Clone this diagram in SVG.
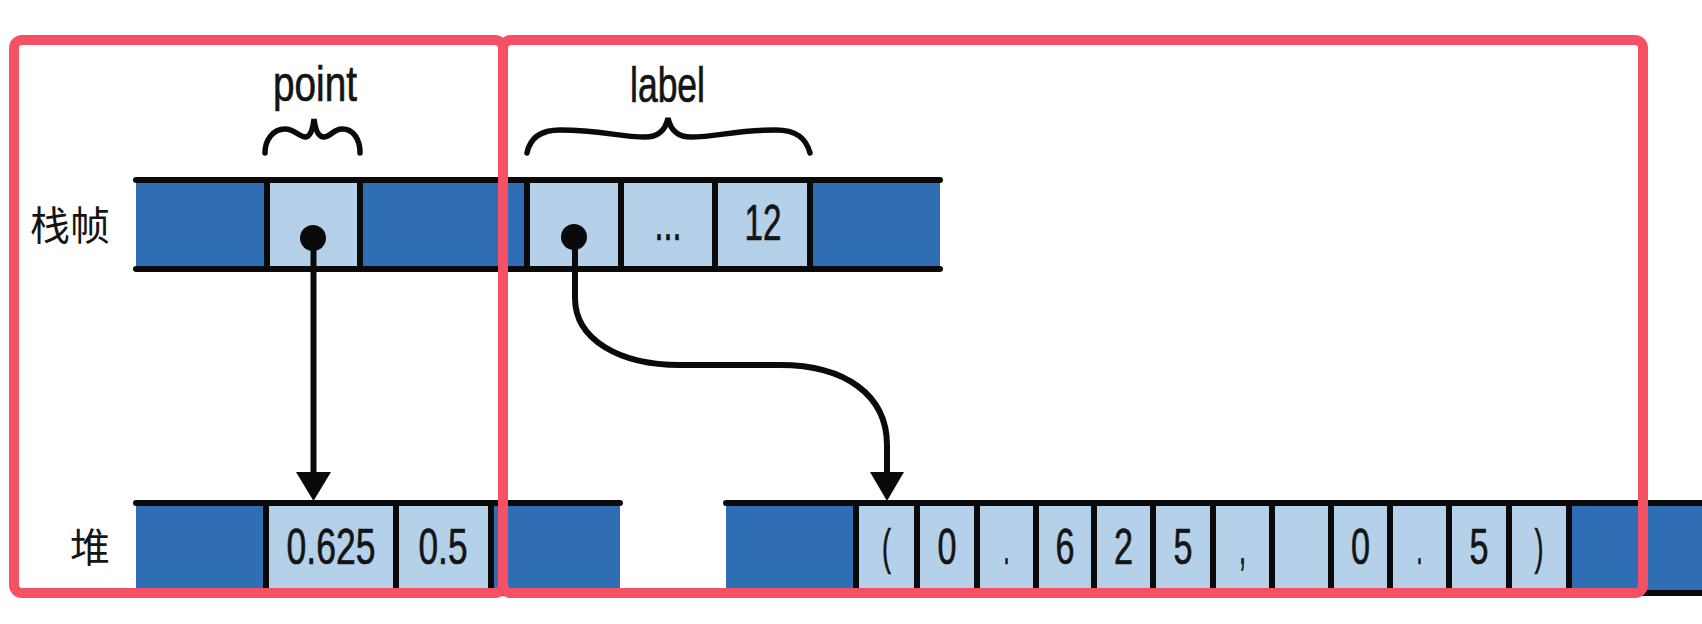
<svg xmlns="http://www.w3.org/2000/svg" width="1702" height="624" viewBox="0 0 1702 624">
<style>
.dk{fill:#2f6db5}
.lt{fill:#b5d1ea}
.edge{stroke:#0a0a0a;stroke-width:6;stroke-linecap:round;fill:none}
.sep{stroke:#0a0a0a;stroke-width:6;fill:none}
.t{font-family:"Liberation Sans",Arial,sans-serif;font-size:50px;fill:#141414;stroke:#141414;stroke-width:0.7}
.c{text-anchor:middle}
.cjk{font-family:"Noto Sans CJK SC","Noto Sans",sans-serif;font-size:40px;fill:#141414;text-anchor:end}
.brace{stroke:#0a0a0a;stroke-width:5.5;fill:none;stroke-linecap:round}
.con{stroke:#0a0a0a;stroke-width:6;fill:none}
.frame{fill:none;stroke:#f55064;stroke-width:10}
</style>
<rect width="1702" height="624" fill="#ffffff"/>

<g id="labels">
<text class="cjk" x="110" y="240">栈帧</text>
<text class="cjk" x="110" y="562">堆</text>
</g>

<g id="point-label">
<text class="t" x="273" y="101" textLength="84" lengthAdjust="spacingAndGlyphs">point</text>
<path class="brace" d="M265,153 C265,140 273,129 285,129 C295,129 300,138 306,137 C311,136 313,128 314,119 C315,128 318,136 323,137 C330,138 333,129 342,129 C354,129 360,140 360,153"/>
</g>

<g id="label-label">
<text class="t" x="630" y="102" textLength="75" lengthAdjust="spacingAndGlyphs">label</text>
<path class="brace" d="M527,153 C530,138 540,130 560,130 C600,130 620,137 645,137 C660,137 666,128 668,118 C670,128 676,137 691,137 C716,137 736,130 776,130 C796,130 806,138 810,153"/>
</g>

<g id="stack-frame">
<rect class="dk" x="136" y="180" width="131" height="89"/>
<rect class="lt" x="267" y="180" width="93" height="89"/>
<rect class="dk" x="360" y="180" width="167" height="89"/>
<rect class="lt" x="527" y="180" width="94" height="89"/>
<rect class="lt" x="621" y="180" width="94" height="89"/>
<rect class="lt" x="715" y="180" width="95" height="89"/>
<rect class="dk" x="810" y="180" width="130" height="89"/>
<path class="sep" d="M267,180V269M360,180V269M527,180V269M621,180V269M715,180V269M810,180V269"/>
<path class="edge" d="M136,180H940M136,269H940"/>
<text class="t c" x="668" y="240" textLength="27" lengthAdjust="spacingAndGlyphs">...</text>
<text class="t c" x="763" y="240" textLength="37" lengthAdjust="spacingAndGlyphs">12</text>
<circle cx="313" cy="238" r="13" fill="#0a0a0a"/>
<circle cx="574" cy="237" r="13" fill="#0a0a0a"/>
</g>

<g id="heap-point">
<rect class="dk" x="136" y="503" width="130" height="90"/>
<rect class="lt" x="266" y="503" width="130" height="90"/>
<rect class="lt" x="396" y="503" width="95" height="90"/>
<rect class="dk" x="491" y="503" width="129" height="90"/>
<path class="sep" d="M266,503V593M396,503V593M491,503V593"/>
<path class="edge" d="M136,503H620M136,593H620"/>
<text class="t c" x="331" y="564" textLength="89" lengthAdjust="spacingAndGlyphs">0.625</text>
<text class="t c" x="443" y="564" textLength="49" lengthAdjust="spacingAndGlyphs">0.5</text>
</g>

<g id="heap-label">
<rect class="dk" x="726" y="503" width="130" height="90"/>
<rect class="lt" x="856" y="503" width="713" height="90"/>
<rect class="dk" x="1569" y="503" width="133" height="90"/>
<path class="sep" d="M856,503V593M917,503V593M977,503V593M1036,503V593M1094,503V593M1153,503V593M1213,503V593M1272,503V593M1331,503V593M1390,503V593M1449,503V593M1509,503V593M1569,503V593"/>
<path class="edge" d="M726,503H1702M726,593H1702"/>
<text class="t c" x="886.5" y="564" textLength="9" lengthAdjust="spacingAndGlyphs">(</text>
<text class="t c" x="947" y="564" textLength="19" lengthAdjust="spacingAndGlyphs">0</text>
<text class="t c" x="1006.5" y="564" textLength="6" lengthAdjust="spacingAndGlyphs">.</text>
<text class="t c" x="1065" y="564" textLength="19" lengthAdjust="spacingAndGlyphs">6</text>
<text class="t c" x="1123.5" y="564" textLength="19" lengthAdjust="spacingAndGlyphs">2</text>
<text class="t c" x="1183" y="564" textLength="19" lengthAdjust="spacingAndGlyphs">5</text>
<text class="t c" x="1242.5" y="564" textLength="7" lengthAdjust="spacingAndGlyphs">,</text>
<text class="t c" x="1360.5" y="564" textLength="19" lengthAdjust="spacingAndGlyphs">0</text>
<text class="t c" x="1419.5" y="564" textLength="6" lengthAdjust="spacingAndGlyphs">.</text>
<text class="t c" x="1479" y="564" textLength="19" lengthAdjust="spacingAndGlyphs">5</text>
<text class="t c" x="1539" y="564" textLength="9" lengthAdjust="spacingAndGlyphs">)</text>
</g>

<g id="connectors">
<path class="con" d="M313.5,238V476"/>
<polygon points="296,472 331,472 313.5,501" fill="#0a0a0a"/>
<path class="con" d="M575,238V298 C575,340 620,365 680,365 H780 C845,365 887,395 887,445 V476"/>
<polygon points="870,472 904,472 887,501" fill="#0a0a0a"/>
</g>

<g id="frames">
<rect class="frame" x="14" y="40" width="489" height="553" rx="8"/>
<rect class="frame" x="503" y="40" width="1140" height="553" rx="8"/>
</g>
</svg>
